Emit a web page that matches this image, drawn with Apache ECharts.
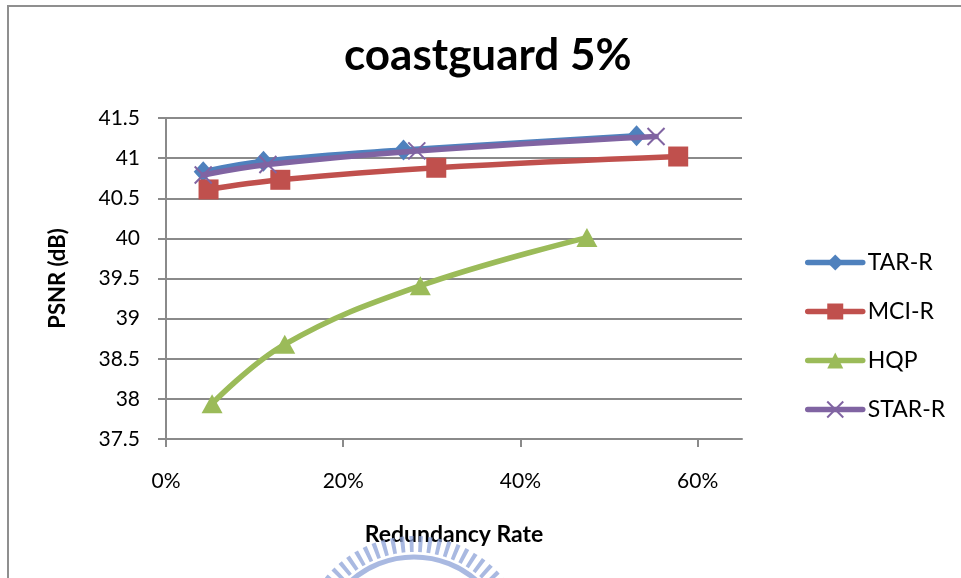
<!DOCTYPE html>
<html>
<head>
<meta charset="utf-8">
<script src="https://cdn.jsdelivr.net/npm/echarts@6/dist/echarts.min.js"></script>
<style>
  html, body { margin: 0; padding: 0; background: #ffffff; }
  #chart { width: 961px; height: 578px; }
</style>
</head>
<body>
<div id="chart"></div>
<script>
// Redundancy rate (fraction) vs. PSNR (dB), coastguard sequence at 5% loss
const seriesNames = ['TAR-R', 'MCI-R', 'HQP', 'STAR-R'];

const tarX  = [0.042, 0.110, 0.268, 0.531];
const tarY  = [40.83, 40.96, 41.10, 41.28];

const mciX  = [0.048, 0.129, 0.305, 0.578];
const mciY  = [40.61, 40.73, 40.88, 41.02];

const hqpX  = [0.052, 0.134, 0.287, 0.475];
const hqpY  = [37.94, 38.68, 39.41, 40.01];

const starX = [0.042, 0.115, 0.283, 0.553];
const starY = [40.79, 40.92, 41.09, 41.27];

const xTicks = [0, 0.2, 0.4, 0.6];

const colors = ['#4F81BD', '#C0504D', '#9BBB59', '#8064A2'];
const symbols = ['diamond', 'rect', 'triangle',
  'path://M0,0 L2,2 M2,0 L0,2'];
const symbolSizes = [[19, 21], 20, [21, 19], 17];

const pair = (xs, ys) => xs.map((x, i) => [x, ys[i]]);
const data = [pair(tarX, tarY), pair(mciX, mciY), pair(hqpX, hqpY), pair(starX, starY)];

const font = 'Lato, "Open Sans", sans-serif';
const gray = '#8a8a8a';

const chart = echarts.init(document.getElementById('chart'), null, { renderer: 'canvas' });

chart.setOption({
  animation: false,
  backgroundColor: '#ffffff',
  title: {
    text: 'coastguard 5%',
    left: 344,
    top: 34,
    padding: 0,
    textStyle: { fontFamily: font, fontSize: 44, fontWeight: 'bold', color: '#000' }
  },
  graphic: [
    {
      // chart frame (left and top edges visible)
      type: 'rect',
      shape: { x: 8, y: 6, width: 1200, height: 1200 },
      style: { fill: 'none', stroke: '#8f8f8f', lineWidth: 2 },
      z: 0
    },
    {
      // emblem ring at the bottom
      type: 'circle',
      shape: { cx: 414, cy: 652, r: 108 },
      style: { fill: 'none', stroke: 'rgba(140,162,215,0.75)', lineWidth: 16, lineDash: [4, 5] },
      z: 100
    },
    {
      type: 'circle',
      shape: { cx: 414, cy: 652, r: 95 },
      style: { fill: 'none', stroke: 'rgba(140,162,215,0.75)', lineWidth: 5 },
      z: 100
    }
  ],
  legend: {
    orient: 'vertical',
    left: 800,
    top: 246,
    itemWidth: 55,
    itemHeight: 20,
    itemGap: 26,
    data: seriesNames,
    lineStyle: { width: 5.5 },
    textStyle: { fontFamily: font, fontSize: 23, color: '#000' }
  },
  grid: { left: 166, right: 219, top: 118, bottom: 139 },
  xAxis: {
    type: 'value',
    min: 0,
    max: 0.65,
    interval: 0.2,
    name: 'Redundancy Rate',
    nameLocation: 'middle',
    nameGap: 84,
    nameTextStyle: { fontFamily: font, fontSize: 23, fontWeight: 'bold', color: '#000' },
    axisLine: { show: true, lineStyle: { color: gray, width: 2 } },
    axisTick: { show: true, length: 8, customValues: xTicks, lineStyle: { color: gray, width: 2 } },
    axisLabel: {
      customValues: xTicks,
      margin: 32,
      fontFamily: font, fontSize: 21, color: '#000',
      formatter: v => Math.round(v * 100) + '%'
    },
    splitLine: { show: false }
  },
  yAxis: {
    type: 'value',
    min: 37.5,
    max: 41.5,
    interval: 0.5,
    name: 'PSNR (dB)',
    nameLocation: 'middle',
    nameGap: 97,
    nameTextStyle: { fontFamily: font, fontSize: 22, fontWeight: 'bold', color: '#000' },
    axisLine: { show: true, lineStyle: { color: gray, width: 2 } },
    axisTick: { show: true, length: 8, lineStyle: { color: gray, width: 2 } },
    axisLabel: {
      margin: 26,
      fontFamily: font, fontSize: 21, color: '#000',
      formatter: v => String(+v.toFixed(1))
    },
    splitLine: { show: true, lineStyle: { color: gray, width: 2 } }
  },
  series: seriesNames.map((name, i) => ({
    name,
    type: 'line',
    data: data[i],
    smooth: 0.4,
    color: colors[i],
    symbol: symbols[i],
    symbolSize: symbolSizes[i],
    showAllSymbol: true,
    lineStyle: { width: 5.5, color: colors[i], cap: 'round', join: 'round' },
    itemStyle: i === 3
      ? { color: colors[i], borderColor: colors[i], borderWidth: 2 }
      : { color: colors[i], borderWidth: 0 },
    z: 2 + i
  }))
});
</script>
</body>
</html>
